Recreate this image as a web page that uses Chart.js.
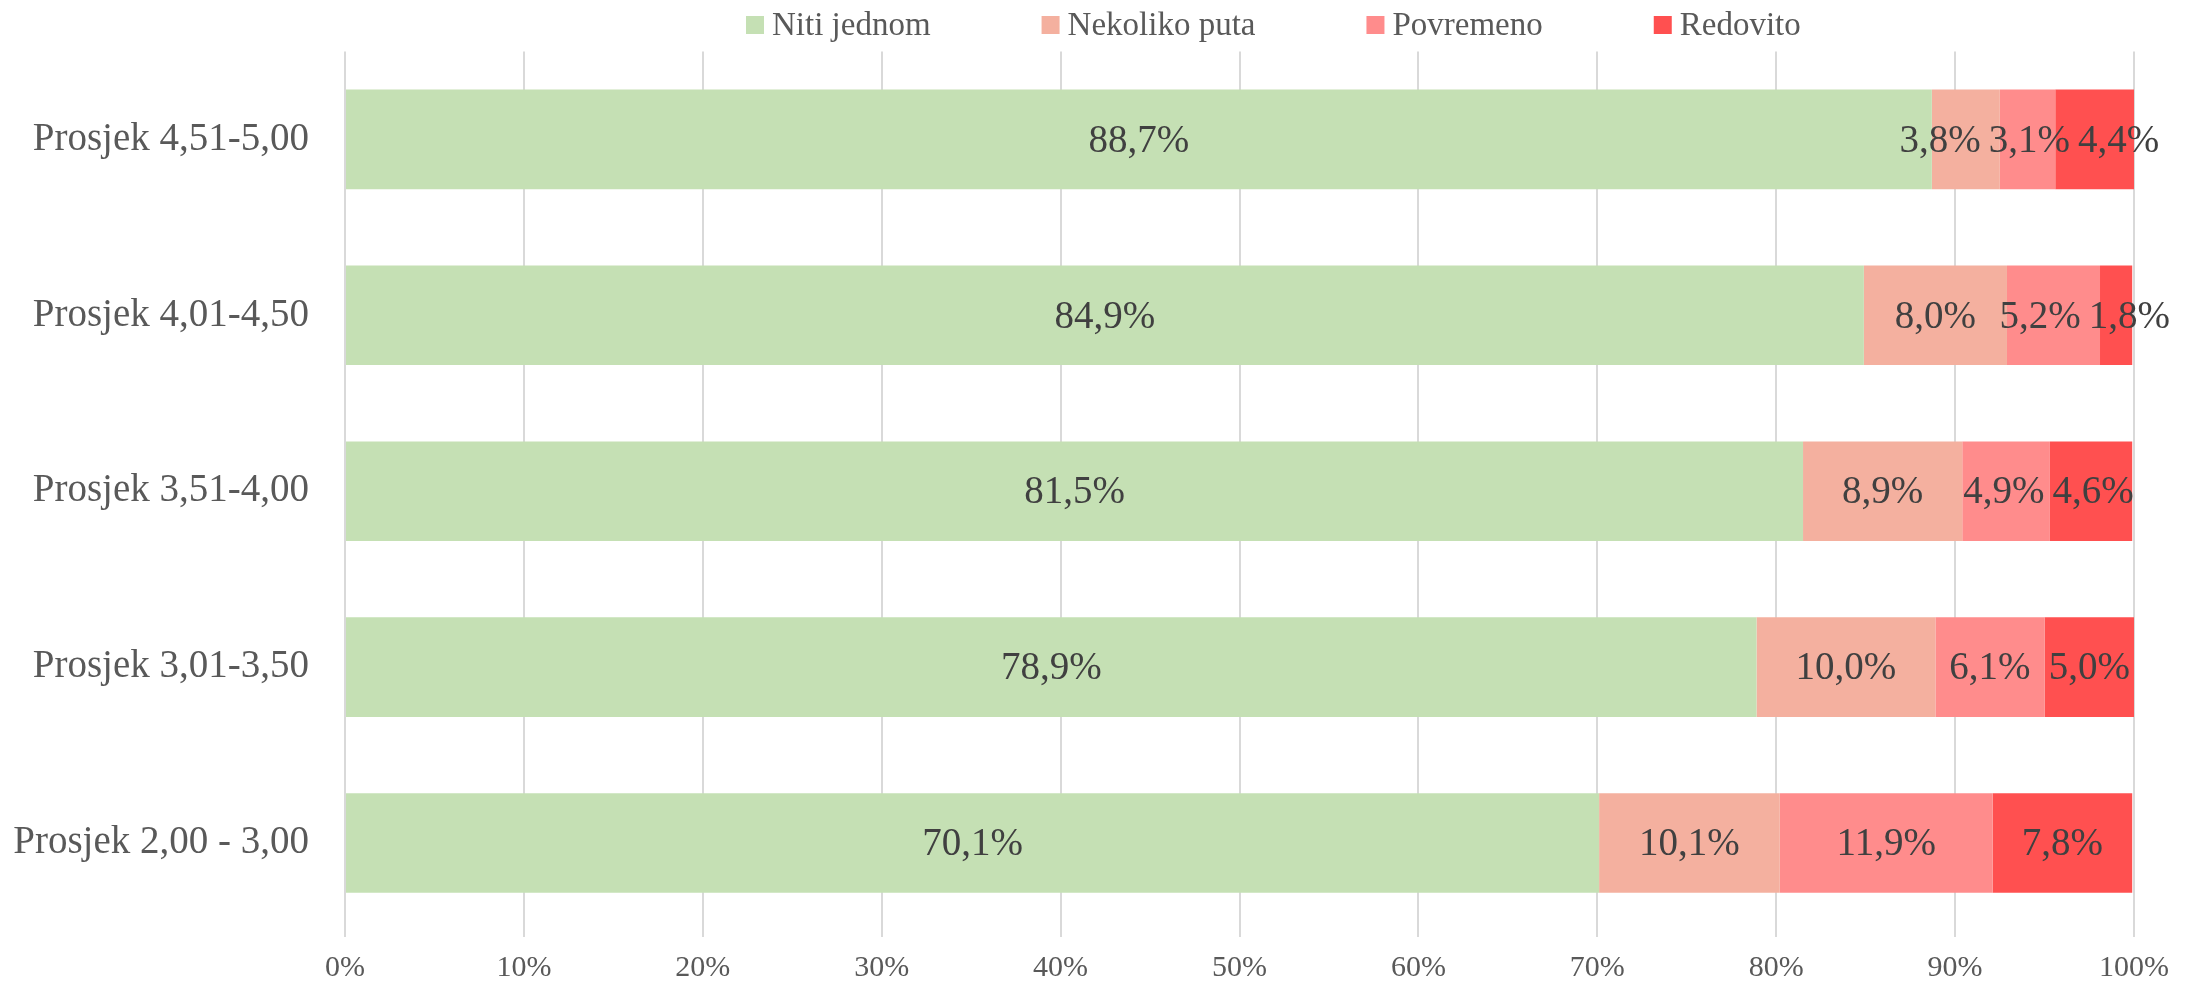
<!DOCTYPE html>
<html>
<head>
<meta charset="utf-8">
<script src="https://cdn.jsdelivr.net/npm/chart.js@4/dist/chart.umd.min.js"></script>
<style>
  html, body { margin: 0; padding: 0; background: #fff; }
  #wrap { width: 2200px; height: 985px; }
</style>
</head>
<body>
<div id="wrap"><canvas id="myChart" width="2200" height="985"></canvas></div>
<script>
// data
var categories = ['Prosjek 4,51-5,00', 'Prosjek 4,01-4,50', 'Prosjek 3,51-4,00', 'Prosjek 3,01-3,50', 'Prosjek 2,00 - 3,00'];
var seriesNames = ['Niti jednom', 'Nekoliko puta', 'Povremeno', 'Redovito'];
var nitiJednom = [88.7, 84.9, 81.5, 78.9, 70.1];
var nekolikoPuta = [3.8, 8.0, 8.9, 10.0, 10.1];
var povremeno = [3.1, 5.2, 4.9, 6.1, 11.9];
var redovito = [4.4, 1.8, 4.6, 5.0, 7.8];
var xTicks = [0, 10, 20, 30, 40, 50, 60, 70, 80, 90, 100];

var colors = ['#C5E0B4', '#F4B09F', '#FF8C8C', '#FF5050'];
var FONT = "'Liberation Serif', serif";

function fmt(v){
    return v.toFixed(1).replace('.', ',') + '%';
}

// values in the middle of each segment, pushed apart when they collide
var segmentLabels = {
    id: 'segmentLabels',
    afterDatasetsDraw: function(chart){
        var ctx = chart.ctx;
        ctx.save();
        ctx.font = '39px ' + FONT;
        ctx.fillStyle = '#404040';
        ctx.textAlign = 'center';
        ctx.textBaseline = 'middle';
        var n = chart.data.labels.length;
        for (var j = 0; j < n; j++) {
            var row = [];
            chart.data.datasets.forEach(function(ds, i){
                var p = chart.getDatasetMeta(i).data[j].getProps(['x', 'y', 'base'], true);
                var txt = fmt(ds.data[j]);
                row.push({ txt: txt, x: (p.x + p.base) / 2, y: p.y, w: ctx.measureText(txt).width });
            });
            for (var it = 0; it < 20; it++) {
                for (var k = 0; k < row.length - 1; k++) {
                    var a = row[k], b = row[k + 1];
                    var over = (a.x + a.w / 2 + 8) - (b.x - b.w / 2);
                    if (over > 0) {
                        a.x -= over / 2;
                        b.x += over / 2;
                    }
                }
            }
            row.forEach(function(l){
                ctx.fillText(l.txt, l.x, l.y + 2);
            });
        }
        ctx.restore();
    }
};

// legend drawn like the office one: fixed gaps between items
var topLegend = {
    id: 'topLegend',
    afterDraw: function(chart){
        var ctx = chart.ctx;
        ctx.save();
        ctx.font = '33px ' + FONT;
        ctx.textBaseline = 'middle';
        var x = 746, y = 25, box = 18, gap = 8, itemGap = 111;
        chart.data.datasets.forEach(function(ds){
            ctx.fillStyle = ds.backgroundColor;
            ctx.fillRect(x, y - box / 2, box, box);
            ctx.fillStyle = '#595959';
            ctx.fillText(ds.label, x + box + gap, y + 1);
            x += box + gap + ctx.measureText(ds.label).width + itemGap;
        });
        ctx.restore();
    }
};

var series = [nitiJednom, nekolikoPuta, povremeno, redovito];
var datasets = series.map(function(d, i){
    return {
        label: seriesNames[i],
        data: d,
        backgroundColor: colors[i],
        borderWidth: 0,
        categoryPercentage: 1,
        barPercentage: 0.566
    };
});

var ctx = document.getElementById('myChart').getContext('2d');
var myChart = new Chart(ctx, {
    type: 'bar',
    data: { labels: categories, datasets: datasets },
    options: {
        indexAxis: 'y',
        responsive: false,
        animation: false,
        layout: { padding: { top: 47, right: 66, bottom: 0, left: 0 } },
        plugins: {
            legend: { display: false },
            tooltip: { enabled: false }
        },
        scales: {
            x: {
                stacked: true,
                min: 0,
                max: 100,
                afterBuildTicks: function(scale){
                    scale.ticks = xTicks.map(function(v){ return { value: v }; });
                },
                afterFit: function(scale){ scale.height = 54; },
                grid: { color: '#D9D9D9', lineWidth: 2, tickLength: 6 },
                border: { display: false },
                ticks: {
                    color: '#595959',
                    font: { family: FONT, size: 30 },
                    padding: 13,
                    callback: function(v){ return v + '%'; }
                }
            },
            y: {
                stacked: true,
                afterFit: function(scale){ scale.width = 345; },
                grid: { display: false },
                border: { display: false },
                ticks: {
                    color: '#595959',
                    font: { family: FONT, size: 39 },
                    padding: 28
                }
            }
        }
    },
    plugins: [segmentLabels, topLegend]
});
</script>
</body>
</html>
